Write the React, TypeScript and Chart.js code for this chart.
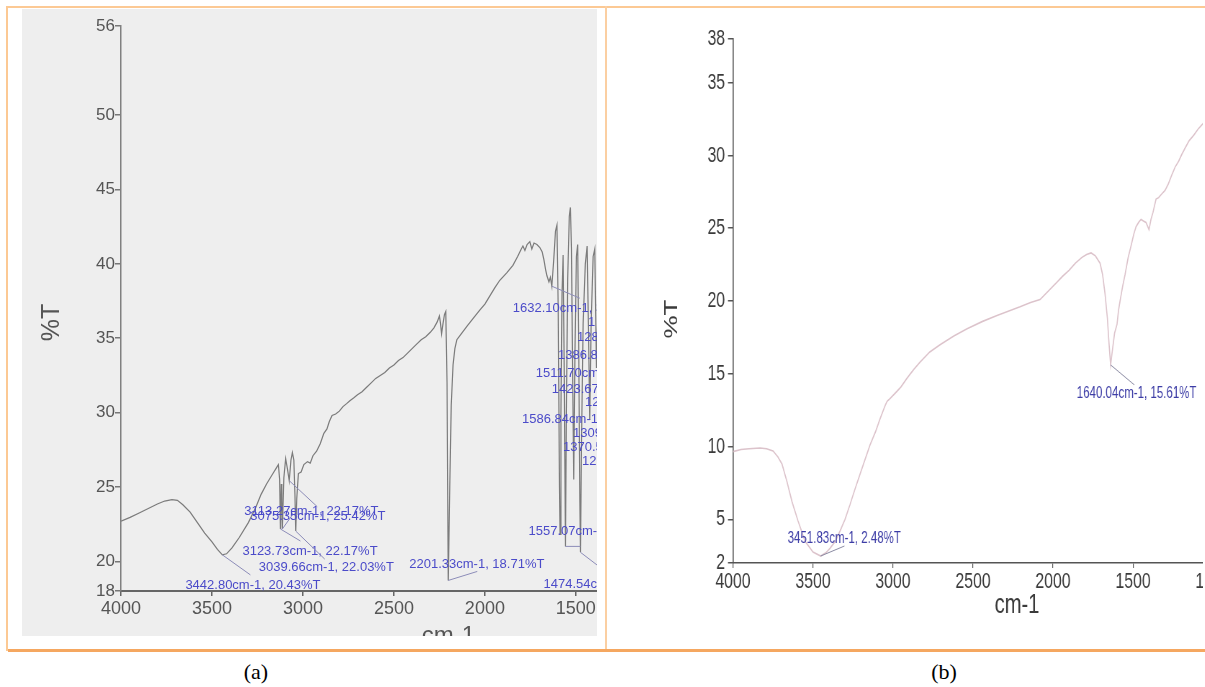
import React, { useEffect, useRef } from "react";
import { Chart, registerables } from "chart.js";

Chart.register(...registerables);

const FONT = "'Liberation Sans', Arial, Helvetica, sans-serif";

// ---------------- Panel (a) data ----------------
const waveA = [
  4000, 3950, 3900, 3850, 3800, 3760, 3720, 3690, 3660, 3620, 3580, 3540, 3500, 3470, 3442.8, 3420, 3390, 3350, 3300,
  3260, 3230, 3200, 3170, 3145, 3135, 3128, 3123.73, 3119, 3116, 3113.27, 3105, 3095, 3085, 3075.35, 3066, 3058, 3050,
  3044, 3039.66, 3034, 3025, 3010, 2995, 2975, 2960, 2945, 2925, 2905, 2885, 2868, 2855, 2840, 2820, 2800, 2780, 2760,
  2742, 2720, 2700, 2675, 2650, 2625, 2600, 2575, 2550, 2525, 2500, 2475, 2450, 2425, 2400, 2375, 2350, 2325, 2300,
  2280, 2262, 2250, 2244, 2238, 2230, 2222, 2215, 2208, 2201.33, 2193, 2185, 2175, 2165, 2154, 2130, 2099, 2060, 2027,
  2000, 1970, 1945, 1918, 1880, 1846, 1820, 1800, 1791, 1780, 1768, 1753, 1742, 1730, 1714, 1698, 1685, 1676, 1666,
  1659, 1648, 1640, 1632.1, 1622, 1612, 1604, 1597, 1590, 1586.84, 1582, 1576, 1570, 1564, 1557.07, 1552, 1545, 1536,
  1530, 1524, 1518, 1511.7, 1505, 1497, 1490, 1484, 1478, 1474.54, 1469, 1460, 1448, 1438, 1430, 1423.67, 1416, 1405,
  1396, 1386.8, 1378, 1370.5, 1360,
];
const transA = [
  22.7, 22.95, 23.25, 23.55, 23.85, 24.05, 24.15, 24.1, 23.8, 23.3, 22.6, 21.9, 21.3, 20.8, 20.43, 20.5, 20.9, 21.6, 22.6,
  23.6, 24.5, 25.2, 25.8, 26.3, 26.5, 25.5, 22.17, 25.2, 24.0, 22.17, 25.6, 26.9, 26.2, 25.42, 26.8, 27.3, 26.8,
  24.5, 22.03, 24.2, 25.9, 26.0, 26.5, 26.7, 26.6, 27.1, 27.4, 27.9, 28.6, 28.9, 29.4, 29.8, 29.9, 30.1, 30.4, 30.6,
  30.8, 31.0, 31.2, 31.4, 31.7, 32.0, 32.3, 32.5, 32.7, 33.0, 33.2, 33.5, 33.7, 34.0, 34.3, 34.6, 34.9, 35.1, 35.4,
  35.7, 36.1, 36.5, 36.0, 35.3, 36.0, 36.6, 36.8, 32.0, 18.71, 25.0, 30.5, 33.2, 34.3, 34.9, 35.3, 35.8, 36.4, 36.9,
  37.3, 37.9, 38.4, 38.9, 39.4, 39.9, 40.5, 41.0, 41.2, 40.9, 41.3, 41.5, 41.0, 41.4, 41.3, 41.1, 40.8, 40.3, 39.6,
  39.2, 38.8, 39.1, 38.5, 40.2, 42.2, 42.6, 37.0, 25.0, 21.8, 30.0, 38.0, 40.6, 33.0, 21.0, 30.0, 39.0, 43.2,
  43.8, 41.0, 33.0, 25.5, 34.0, 40.5, 41.3, 34.0, 24.0, 20.6, 28.0, 36.0, 40.0, 41.2, 35.0, 29.5, 36.0, 40.5,
  41.0, 33.0, 37.0, 30.0, 37.0,
];
const xTicksA = [4000, 3500, 3000, 2500, 2000, 1500, 1000, 500];
const yTicksA = [18, 20, 25, 30, 35, 40, 45, 50, 56];
const peakWaveA = [3442.8, 3123.73, 3113.27, 3075.35, 3039.66, 2201.33, 1632.1, 1586.84, 1557.07, 1511.7, 1474.54, 1423.67];
const peakTransA = [20.43, 22.17, 22.17, 25.42, 22.03, 18.71, 38.5, 21.8, 21.0, 25.5, 20.6, 29.5];
const fragmentTextA = ["1", "128", "1386.8", "12", "1309", "1370.5", "126"];

// ---------------- Panel (b) data ----------------
const waveB = [
  4000, 3950, 3900, 3831, 3790, 3750, 3720, 3694, 3663, 3631, 3594, 3550, 3500, 3451.83, 3420, 3394, 3360, 3331, 3300,
  3269, 3240, 3206, 3175, 3144, 3110, 3081, 3050, 3037, 3019, 2975, 2950, 2912, 2870, 2831, 2770, 2706, 2620, 2537,
  2440, 2350, 2280, 2206, 2140, 2081, 2019, 1975, 1940, 1900, 1860, 1819, 1790, 1762, 1735, 1706, 1690, 1675, 1660,
  1650, 1640.04, 1630, 1615, 1600, 1590, 1581, 1565, 1550, 1530, 1512, 1495, 1481, 1465, 1450, 1435, 1419, 1400, 1388,
  1375, 1356, 1340, 1325, 1300, 1281, 1260, 1237, 1215, 1194, 1170, 1150, 1120, 1094, 1070, 1050,
];
const transB = [
  9.65, 9.8, 9.85, 9.9, 9.85, 9.7, 9.3, 8.8, 7.6, 6.2, 4.9, 3.5, 2.75, 2.48, 2.7, 3.0, 3.5, 4.2, 5.0,
  6.0, 7.0, 8.1, 9.1, 10.1, 11.0, 11.9, 12.8, 13.1, 13.3, 13.8, 14.1, 14.7, 15.3, 15.8, 16.5, 17.0, 17.6, 18.1,
  18.6, 19.0, 19.3, 19.6, 19.9, 20.1, 20.8, 21.3, 21.7, 22.1, 22.6, 23.0, 23.2, 23.3, 23.1, 22.6, 21.8, 20.5, 18.8,
  17.1, 15.61, 16.5, 17.8, 18.4, 19.4, 20.0, 21.0, 21.8, 23.0, 23.8, 24.6, 25.1, 25.4, 25.6, 25.5, 25.4, 24.9, 25.6,
  26.1, 27.0, 27.1, 27.3, 27.6, 28.0, 28.6, 29.2, 29.6, 30.1, 30.6, 31.0, 31.4, 31.8, 32.1, 32.3,
];
const xTicksB = [4000, 3500, 3000, 2500, 2000, 1500, 1000, 500];
const yTicksB = [2, 5, 10, 15, 20, 25, 30, 35, 38];
const peakWaveB = [3451.83, 1640.04];
const peakTransB = [2.48, 15.61];

// ---------------- layout (pixels) ----------------
const labelOffsetA: [number, number][] = [
  [-37, 31], [-38, 22], [-38, -18], [-39, 36], [-37, 36], [-39, -16], [-39, 22], [-38, -115], [-37, -15], [-38, -106], [-37, 32], [-38, -31],
];
const leaderEndA: ([number, number] | null)[] = [
  [28, 20], [20, 12], [10, -14], [28, 26], [29, 28], [29, -9], [28, 12], null, [15, 0], null, [17, 13], null,
];
const fragmentPosA: [number, number][] = [
  [566, 313], [555, 328], [536, 346], [563, 393], [551, 424], [541, 438], [560, 452],
];
const labelOffsetB: [number, number][] = [[-46, -17], [-47, 29]];
const leaderEndB: [number, number][] = [[33, -10], [33, 20]];
const SQUISH_B = 0.72;

const fmt = (w: number, t: number) => `${w.toFixed(2)}cm-1, ${t.toFixed(2)}%T`;

function peakPlugin(cfg: any) {
  return {
    id: "peakLabels",
    afterDatasetsDraw(chart: any) {
      const { ctx } = chart;
      const xs = chart.scales.x;
      const ys = chart.scales.y;
      ctx.save();
      ctx.font = cfg.font;
      ctx.textBaseline = "middle";
      ctx.textAlign = "left";
      cfg.waves.forEach((w: number, i: number) => {
        const t = cfg.trans[i];
        const px = xs.getPixelForValue(w);
        const py = ys.getPixelForValue(t);
        const end = cfg.leaders[i];
        if (end) {
          ctx.strokeStyle = cfg.leaderColor;
          ctx.lineWidth = 1;
          ctx.beginPath();
          ctx.moveTo(px, py);
          ctx.lineTo(px + end[0], py + end[1]);
          ctx.stroke();
        }
        const off = cfg.offsets[i];
        ctx.fillStyle = cfg.color;
        ctx.fillText(fmt(w, t), px + off[0], py + off[1]);
      });
      (cfg.fragments || []).forEach((txt: string, i: number) => {
        const p = cfg.fragmentPos[i];
        ctx.fillStyle = cfg.color;
        ctx.fillText(txt, p[0], p[1]);
      });
      ctx.restore();
    },
  };
}

function makeTicks(values: number[]) {
  return (scale: any) => {
    scale.ticks = values.map((v) => ({ value: v }));
  };
}

export default function App() {
  const refA = useRef<HTMLCanvasElement>(null);
  const refB = useRef<HTMLCanvasElement>(null);

  useEffect(() => {
    Chart.defaults.font.family = FONT;
    const chartA = new Chart(refA.current as HTMLCanvasElement, {
      type: "line",
      data: {
        datasets: [
          {
            data: waveA.map((w, i) => ({ x: w, y: transA[i] })),
            borderColor: "#7c7c7c",
            borderWidth: 1.2,
            pointRadius: 0,
            tension: 0,
            fill: false,
          },
        ],
      },
      options: {
        animation: false,
        responsive: false,
        events: [],
        layout: { padding: { top: 17, right: 36, left: 0, bottom: 0 } },
        plugins: { legend: { display: false }, tooltip: { enabled: false } },
        scales: {
          x: {
            type: "linear",
            reverse: true,
            min: 400,
            max: 4000,
            afterBuildTicks: makeTicks(xTicksA),
            afterFit: (s: any) => {
              s.height = 83;
            },
            ticks: { autoSkip: false, maxRotation: 0, font: { size: 18 }, color: "#555", padding: 2, callback: (v: any) => String(v) },
            grid: { drawOnChartArea: false, drawTicks: true, tickLength: 5, color: "#666", lineWidth: 1.5 },
            border: { display: true, color: "#666", width: 2 },
            title: { display: true, text: "cm-1", font: { size: 24 }, color: "#555", padding: { top: 0, bottom: 23.6 } },
          },
          y: {
            type: "linear",
            min: 18,
            max: 56,
            afterBuildTicks: makeTicks(yTicksA),
            afterFit: (s: any) => {
              s.width = 99;
            },
            ticks: { autoSkip: false, font: { size: 17 }, color: "#555", padding: 0, callback: (v: any) => String(v) },
            grid: { drawOnChartArea: false, drawTicks: true, tickLength: 6, color: "#777", lineWidth: 1.5 },
            border: { display: true, color: "#808080", width: 1.5 },
            title: { display: true, text: "%T    ", font: { size: 25 }, color: "#555", padding: { top: 15.5, bottom: 0 } },
          },
        },
      },
      plugins: [
        peakPlugin({
          waves: peakWaveA,
          trans: peakTransA,
          offsets: labelOffsetA,
          leaders: leaderEndA,
          fragments: fragmentTextA,
          fragmentPos: fragmentPosA,
          font: `13px ${FONT}`,
          color: "#4b4bc9",
          leaderColor: "#8c8cb8",
        }),
      ],
    } as any);

    const chartB = new Chart(refB.current as HTMLCanvasElement, {
      type: "line",
      data: {
        datasets: [
          {
            data: waveB.map((w, i) => ({ x: w, y: transB[i] })),
            borderColor: "#dcc3cb",
            borderWidth: 1.6,
            pointRadius: 0,
            tension: 0,
            fill: false,
          },
        ],
      },
      options: {
        animation: false,
        responsive: false,
        events: [],
        layout: { padding: { top: 30, right: 44.5, left: 0, bottom: 0 } },
        plugins: { legend: { display: false }, tooltip: { enabled: false } },
        scales: {
          x: {
            type: "linear",
            reverse: true,
            min: 450,
            max: 4000,
            afterBuildTicks: makeTicks(xTicksB),
            afterFit: (s: any) => {
              s.height = 86;
            },
            ticks: { autoSkip: false, maxRotation: 0, font: { size: 22 }, color: "#3a3a3a", padding: 1, callback: (v: any) => String(v) },
            grid: { drawOnChartArea: false, drawTicks: true, tickLength: 5, color: "#555", lineWidth: 1.2 },
            border: { display: true, color: "#555", width: 1.5 },
            title: { display: true, text: "cm-1", font: { size: 28 }, color: "#3a3a3a", padding: { top: 0, bottom: 27.2 } },
          },
          y: {
            type: "linear",
            min: 2,
            max: 38,
            afterBuildTicks: makeTicks(yTicksB),
            afterFit: (s: any) => {
              s.width = 173.6;
            },
            ticks: { autoSkip: false, font: { size: 22 }, color: "#3a3a3a", padding: 4, callback: (v: any) => String(v) },
            grid: { drawOnChartArea: false, drawTicks: true, tickLength: 7, color: "#555", lineWidth: 1.5 },
            border: { display: true, color: "#555", width: 1.6 },
            title: { display: true, text: "%T     ", font: { size: 26 }, color: "#3a3a3a", padding: { top: 73.3, bottom: 0 } },
          },
        },
      },
      plugins: [
        peakPlugin({
          waves: peakWaveB,
          trans: peakTransB,
          offsets: labelOffsetB,
          leaders: leaderEndB,
          font: `16px ${FONT}`,
          color: "#3d3da6",
          leaderColor: "#8a8aa2",
        }),
      ],
    } as any);

    return () => {
      chartA.destroy();
      chartB.destroy();
    };
  }, []);

  const abs = (l: number, t: number, w: number, h: number, extra: any = {}) => ({
    position: "absolute" as const,
    left: l,
    top: t,
    width: w,
    height: h,
    ...extra,
  });

  const caption = {
    textAlign: "center",
    fontFamily: "'Liberation Serif', 'Times New Roman', serif",
    fontSize: 22,
    lineHeight: "28px",
    color: "#000",
  };

  return (
    <div style={abs(0, 0, 1205, 687, { background: "#fff", overflow: "hidden" })}>
      {/* frame */}
      <div style={abs(6, 6, 1199, 2, { background: "#fcc994" })} />
      <div style={abs(6, 6, 2, 645, { background: "#fcc994" })} />
      <div style={abs(605, 6, 2, 645, { background: "#fbcfa2" })} />
      <div style={abs(8, 649, 1197, 3, { background: "#f5a760" })} />

      {/* panel (a) */}
      <div style={abs(22, 9, 575, 627, { background: "#eeeeee", overflow: "hidden" })}>
        <canvas ref={refA} width={790} height={665} style={{ position: "absolute", left: 0, top: 0, width: 790, height: 665 }} />
      </div>

      {/* panel (b) */}
      <div style={abs(608, 9, 595, 640, { background: "#ffffff", overflow: "hidden" })}>
        <canvas
          ref={refB}
          width={1007}
          height={640}
          style={{
            position: "absolute",
            left: 0,
            top: 0,
            width: 1007,
            height: 640,
            transform: `scaleX(${SQUISH_B})`,
            transformOrigin: "0 0",
          }}
        />
      </div>

      {/* captions */}
      <div style={abs(206, 658, 100, 28, caption)}>(a)</div>
      <div style={abs(894, 658, 100, 28, caption)}>(b)</div>
    </div>
  );
}
